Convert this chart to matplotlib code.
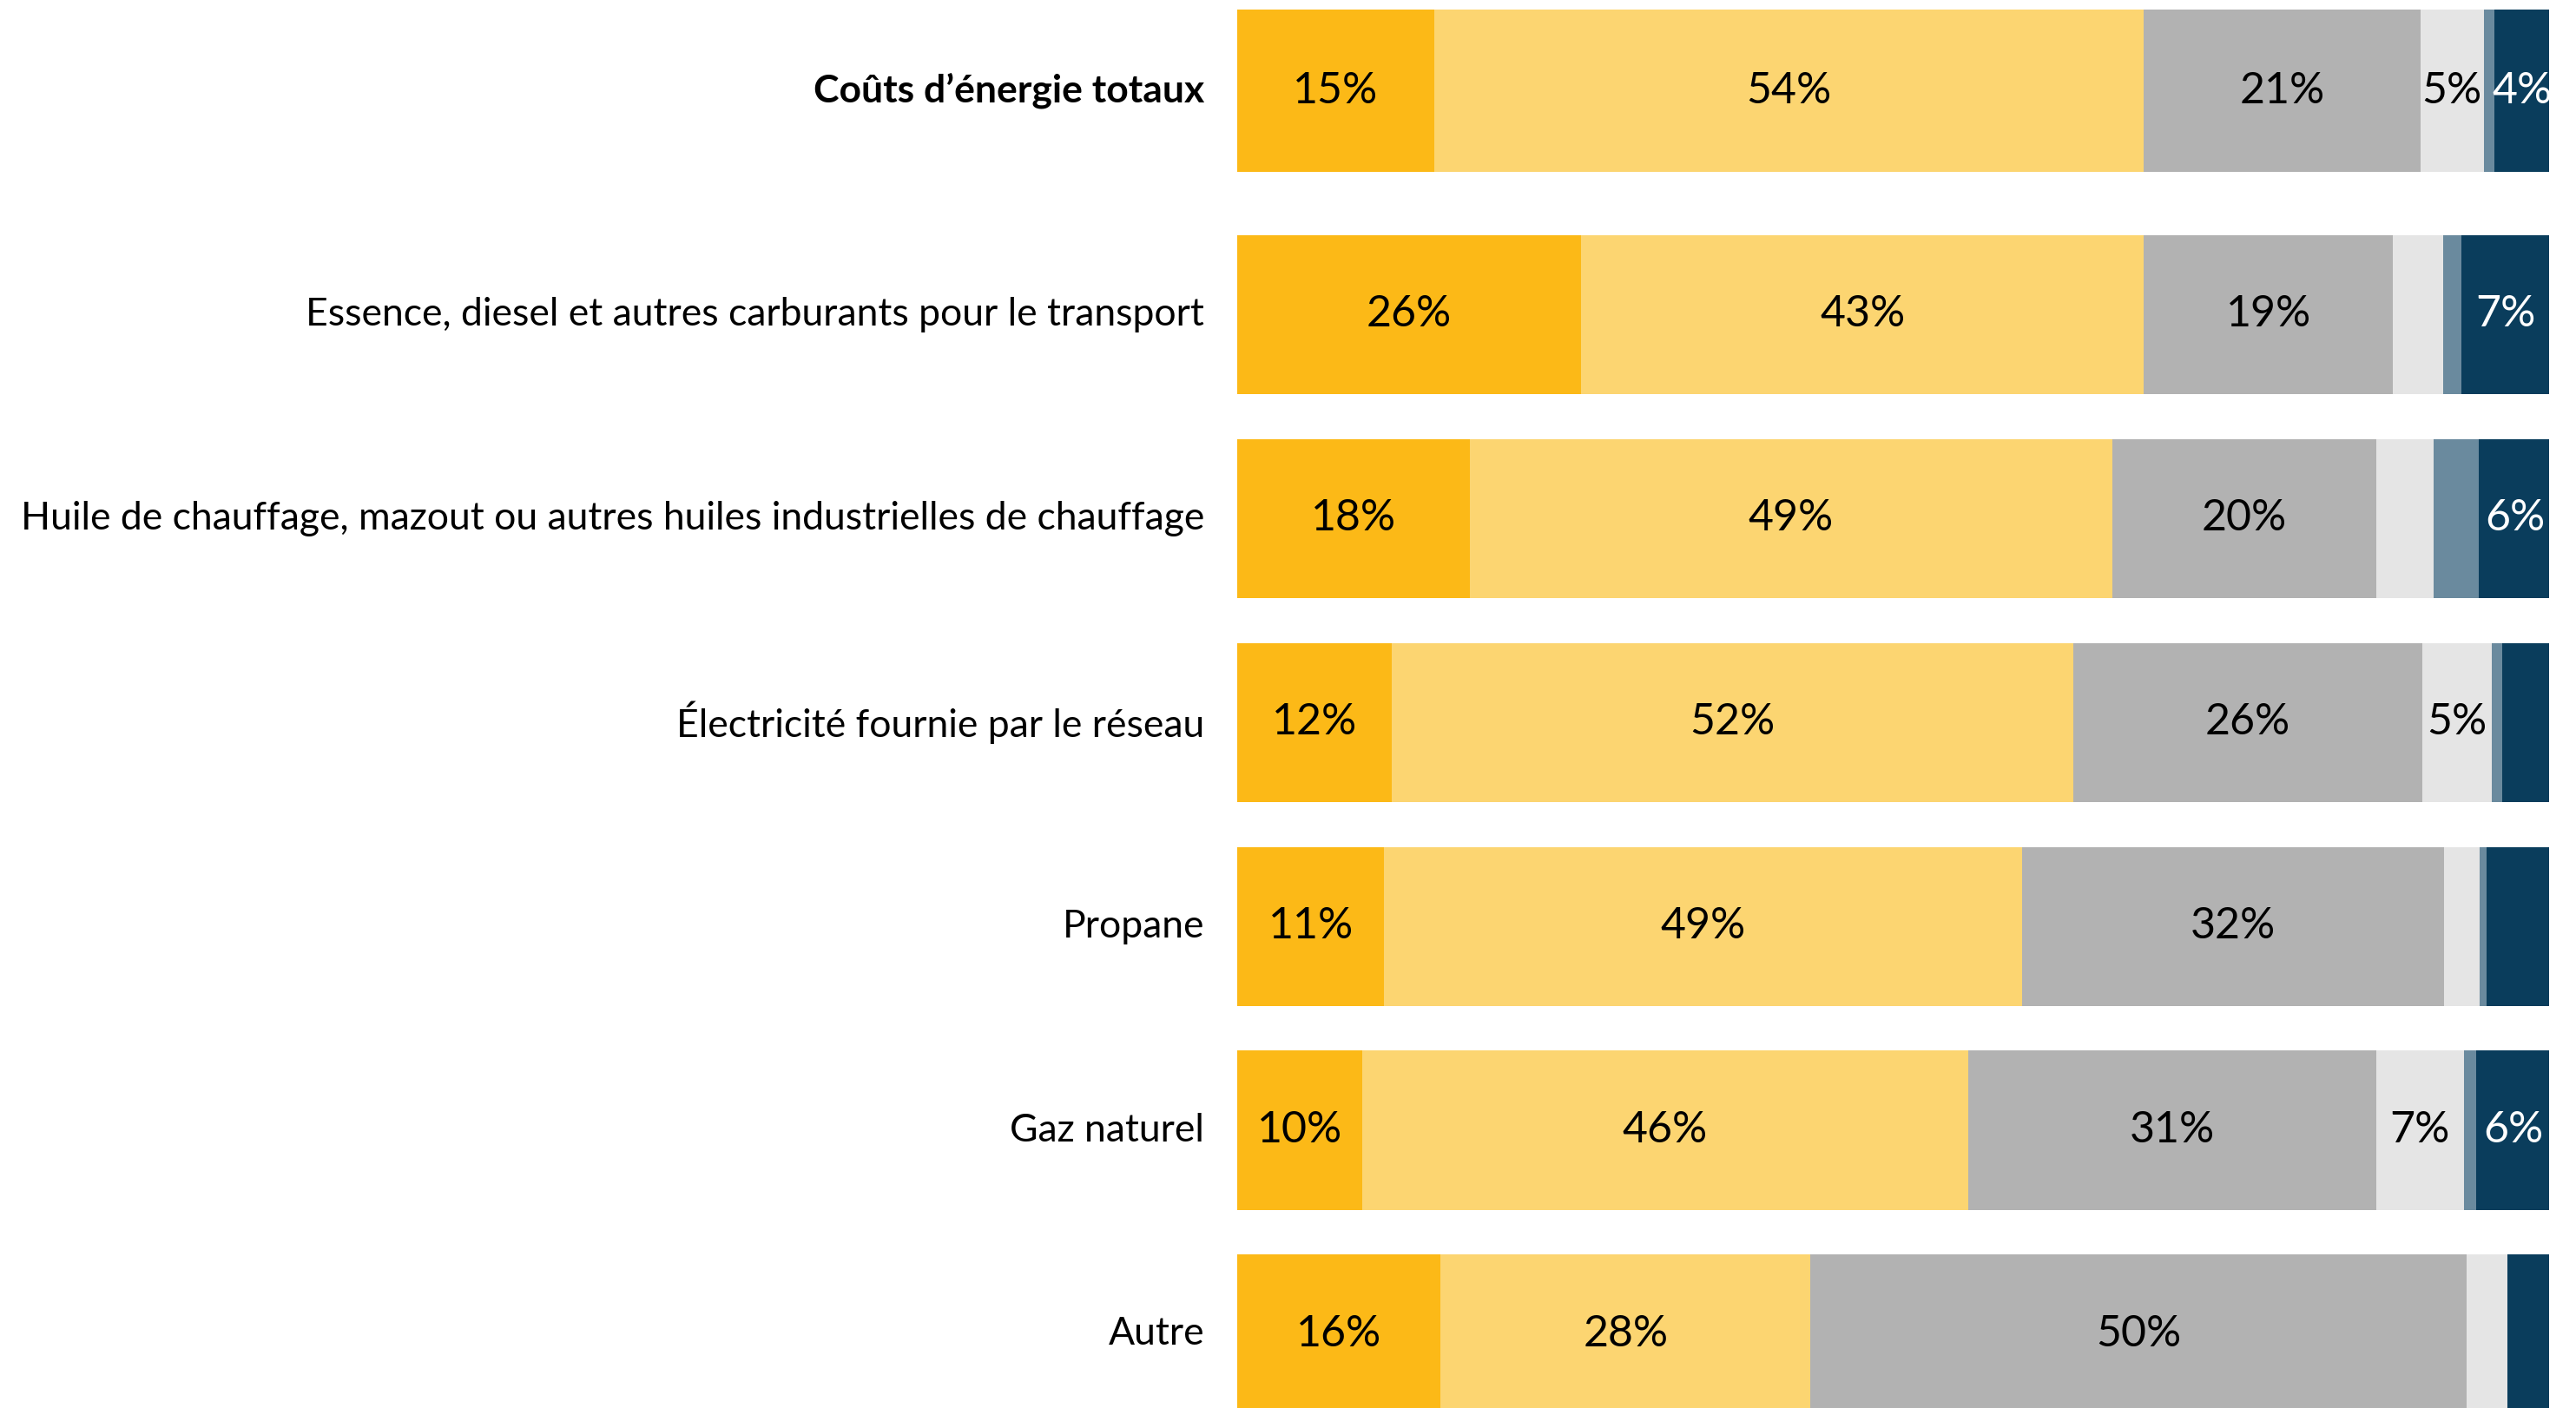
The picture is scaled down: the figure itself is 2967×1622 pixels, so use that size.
import matplotlib as mpl
mpl.use('Agg')
import matplotlib.pyplot as plt
import numpy as np

plt.rcParams['font.family'] = ['Lato', 'DejaVu Sans']

categories = ["Coûts d’énergie totaux",
              "Essence, diesel et autres carburants pour le transport",
              "Huile de chauffage, mazout ou autres huiles industrielles de chauffage",
              "Électricité fournie par le réseau",
              "Propane",
              "Gaz naturel",
              "Autre"]

# share of respondents per answer (six categories, left to right)
s1 = [15.0, 26.2, 17.7, 11.8, 11.2, 9.5, 15.5]
s2 = [54.1, 42.9, 49.0, 51.9, 48.6, 46.2, 28.2]
s3 = [21.1, 19.0, 20.1, 26.6, 32.2, 31.1, 50.0]
s4 = [4.8, 3.8, 4.4, 5.3, 2.7, 6.7, 3.1]
s5 = [0.8, 1.4, 3.4, 0.8, 0.5, 0.9, 0.0]
s6 = [4.3, 6.8, 5.6, 3.8, 4.8, 5.7, 3.2]

# labels actually printed in the bars ('' = no label)
lab1 = ["15%", "26%", "18%", "12%", "11%", "10%", "16%"]
lab2 = ["54%", "43%", "49%", "52%", "49%", "46%", "28%"]
lab3 = ["21%", "19%", "20%", "26%", "32%", "31%", "50%"]
lab4 = ["5%", "", "", "5%", "", "7%", ""]
lab5 = ["", "", "", "", "", "", ""]
lab6 = ["4%", "7%", "6%", "", "", "6%", ""]

couleurs = ['#FCB917', '#FCD571', '#B2B2B2', '#E5E5E5', '#6A8A9E', '#0A3D5C']
couleurs_txt = ['black', 'black', 'black', 'black', 'white', 'white']

series = [s1, s2, s3, s4, s5, s6]
etiquettes = [lab1, lab2, lab3, lab4, lab5, lab6]

ypos = np.arange(len(categories), dtype=float)
ypos[0] = -0.098
hauteurs = np.full(len(categories), 0.78)
hauteurs[0] = 0.80

fig = plt.figure(figsize=(29.67, 16.22), dpi=100)
ax = fig.add_axes([0.4803, 0, 0.5093, 1])

gauche = np.zeros(len(categories))
for vals, labs, c, ct in zip(series, etiquettes, couleurs, couleurs_txt):
    vals = np.array(vals)
    ax.barh(ypos, vals, left=gauche, height=hauteurs, color=c, linewidth=0)
    for y, v, g, t in zip(ypos, vals, gauche, labs):
        if t:
            ax.text(g + v / 2, y, t, ha='center', va='center',
                    fontsize=36, color=ct)
    gauche += vals

for i, (y, cat) in enumerate(zip(ypos, categories)):
    ax.text(-2.5, y, cat, ha='right', va='center', fontsize=32,
            fontweight='bold' if i == 0 else 'normal', color='black')

ax.set_xlim(0, 100)
ax.set_ylim(6.362, -0.543)
ax.axis('off')

fig.savefig('out.png', dpi=100)
